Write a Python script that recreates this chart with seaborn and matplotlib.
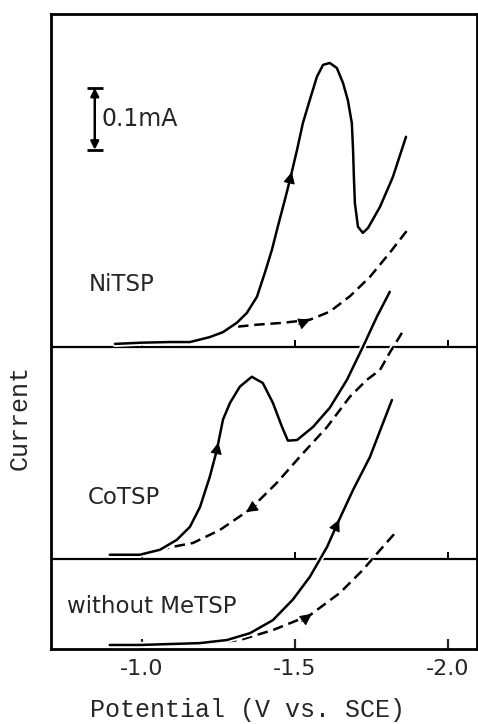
import numpy as np
import pandas as pd
import seaborn as sns
import matplotlib
matplotlib.use("Agg")
import matplotlib.pyplot as plt
import matplotlib.patheffects as pe

sns.set_style("ticks")
plt.rcParams['font.family'] = ['DejaVu Sans']
plt.rcParams['axes.unicode_minus'] = False

# ---------------- data (potential in V, current in mA relative to baseline) -------------
ni_fwd_v = [-0.912, -1.000, -1.092, -1.157, -1.222, -1.265, -1.310, -1.343, -1.376, -1.402,
            -1.425, -1.444, -1.467, -1.484, -1.507, -1.526, -1.549, -1.572, -1.592, -1.614,
            -1.637, -1.657, -1.673, -1.686, -1.690, -1.693, -1.696, -1.706, -1.722, -1.739,
            -1.778, -1.820, -1.863]
ni_fwd_i = [0.000, 0.002, 0.003, 0.003, 0.011, 0.019, 0.034, 0.050, 0.076, 0.115,
            0.152, 0.189, 0.232, 0.265, 0.313, 0.356, 0.394, 0.431, 0.450, 0.453,
            0.445, 0.421, 0.393, 0.356, 0.313, 0.265, 0.227, 0.189, 0.179, 0.187,
            0.221, 0.269, 0.334]
ni_dash_v = [-1.265, -1.297, -1.376, -1.461, -1.549, -1.614, -1.680, -1.745, -1.810, -1.876]
ni_dash_i = [0.019, 0.027, 0.031, 0.034, 0.039, 0.052, 0.077, 0.108, 0.147, 0.189]

co_fwd_v = [-0.895, -0.993, -1.059, -1.114, -1.157, -1.190, -1.222, -1.245, -1.265, -1.288,
            -1.320, -1.359, -1.395, -1.428, -1.458, -1.477, -1.507, -1.559, -1.614, -1.670,
            -1.722, -1.768, -1.810]
co_fwd_i = [0.000, 0.000, 0.008, 0.024, 0.045, 0.077, 0.126, 0.169, 0.218, 0.245,
            0.271, 0.287, 0.277, 0.245, 0.206, 0.184, 0.185, 0.206, 0.237, 0.282,
            0.335, 0.384, 0.424]
co_dash_v = [-1.003, -1.082, -1.167, -1.255, -1.353, -1.441, -1.516, -1.605, -1.680, -1.735,
             -1.778, -1.810, -1.850]
co_dash_i = [0.003, 0.011, 0.019, 0.040, 0.073, 0.116, 0.158, 0.206, 0.255, 0.282,
             0.298, 0.326, 0.358]

wo_fwd_v = [-0.895, -0.993, -1.190, -1.278, -1.353, -1.428, -1.493, -1.549, -1.605, -1.641,
            -1.690, -1.745, -1.788, -1.817]
wo_fwd_i = [0.000, 0.000, 0.003, 0.008, 0.019, 0.040, 0.073, 0.110, 0.158, 0.198,
            0.250, 0.303, 0.358, 0.395]
wo_dash_v = [-1.222, -1.320, -1.428, -1.549, -1.647, -1.722, -1.778, -1.830]
wo_dash_i = [0.003, 0.008, 0.024, 0.048, 0.084, 0.121, 0.153, 0.182]

panel_names = ["NiTSP", "CoTSP", "without MeTSP"]
panel_offsets = [0.492, 0.152, 0.0065]     # baseline of each trace (mA)
divider_levels = [0.487, 0.145]
xticks = [-1.0, -1.5, -2.0]
xtick_labels = ["-1.0", "-1.5", "-2.0"]
scale_bar_ma = 0.1

# ---------------- figure ----------------
fig = plt.figure(figsize=(4.78, 7.24), dpi=100)
ax = fig.add_axes([51/478, 75/724, 426/478, 635/724])
ax.set_xlim(-0.703, -2.095)
ax.set_ylim(0, 1.024)

lw = 1.8
halo = [pe.withStroke(linewidth=4.4, foreground="white")]
dash = (0, (4.2, 2.3))

curves = [
    (ni_dash_v, ni_dash_i, 0, True), (ni_fwd_v, ni_fwd_i, 0, False),
    (co_dash_v, co_dash_i, 1, True), (co_fwd_v, co_fwd_i, 1, False),
    (wo_dash_v, wo_dash_i, 2, True), (wo_fwd_v, wo_fwd_i, 2, False),
]
for v, i, p, dashed in curves:
    df = pd.DataFrame({"V": v, "I": np.asarray(i) + panel_offsets[p]})
    sns.lineplot(data=df, x="V", y="I", ax=ax, color="black", lw=lw, sort=False,
                 estimator=None, linestyle=dash if dashed else "-",
                 solid_joinstyle="round", path_effects=halo, zorder=3)

# dividers with inward ticks
for lev in divider_levels:
    ax.axhline(lev, color="black", lw=1.6, zorder=1)
    ax.vlines(xticks, lev, lev + 0.012, color="black", lw=1.4, zorder=1)

# direction arrows on the traces
fig.canvas.draw()
def arrow_on(v, i, off, at_v, forward=True):
    v = np.asarray(v); i = np.asarray(i) + off
    k = np.where((v[:-1] >= at_v) & (v[1:] <= at_v))[0][0]
    t = (v[k] - at_v) / (v[k] - v[k + 1])
    p = np.array([at_v, i[k] + t * (i[k + 1] - i[k])])
    a = ax.transData.transform((v[k], i[k])); b = ax.transData.transform((v[k + 1], i[k + 1]))
    d = (b - a) / np.hypot(*(b - a))
    if not forward:
        d = -d
    ax.annotate("", xy=p, xytext=(-d[0] * 9, -d[1] * 9), textcoords="offset points",
                arrowprops=dict(arrowstyle="-|>", color="black", lw=0.8,
                                mutation_scale=18, shrinkA=0, shrinkB=0), zorder=4)

arrow_on(ni_fwd_v, ni_fwd_i, panel_offsets[0], -1.49)
arrow_on(ni_dash_v, ni_dash_i, panel_offsets[0], -1.55)
arrow_on(co_fwd_v, co_fwd_i, panel_offsets[1], -1.25)
arrow_on(co_dash_v, co_dash_i, panel_offsets[1], -1.34, forward=False)
arrow_on(wo_fwd_v, wo_fwd_i, panel_offsets[2], -1.645)
arrow_on(wo_dash_v, wo_dash_i, panel_offsets[2], -1.555)

# scale bar
top = 0.905; bot = top - scale_bar_ma
ax.annotate("", xy=(-0.846, top), xytext=(-0.846, bot),
            arrowprops=dict(arrowstyle="<|-|>", color="black", lw=1.8,
                            mutation_scale=12, shrinkA=0, shrinkB=0))
ax.hlines([top, bot], -0.820, -0.873, color="black", lw=2.0)
ax.text(-0.869, (top + bot) / 2, "0.1mA", fontsize=17, va="center", ha="left")

# panel labels
ax.text(-0.827, 0.587, panel_names[0], fontsize=16.5, va="center", ha="left")
ax.text(-0.824, 0.244, panel_names[1], fontsize=16.5, va="center", ha="left")
ax.text(-0.755, 0.068, panel_names[2], fontsize=16.5, va="center", ha="left")

# axes styling
for s in ax.spines.values():
    s.set_linewidth(2.0)
    s.set_color("black")
ax.set_xticks(xticks)
ax.set_xticklabels(xtick_labels, fontsize=16)
ax.tick_params(axis="x", direction="in", length=7, width=1.6, pad=7)
ax.set_yticks([])
mono = ["Liberation Mono", "DejaVu Sans Mono"]
ax.set_xlabel("Potential (V vs. SCE)", fontsize=18, family=mono, va="center")
ax.xaxis.set_label_coords((248 - 51) / 426, (649 - 710) / 635)
ax.set_ylabel("Current", fontsize=18, family=mono, va="center")
ax.yaxis.set_label_coords((20 - 51) / 426, (649 - 417) / 635)

fig.savefig("out.png", dpi=100)
